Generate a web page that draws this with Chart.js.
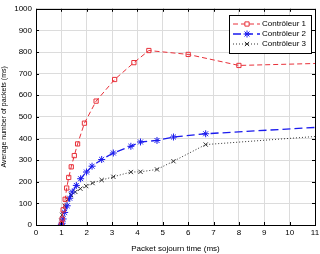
<!DOCTYPE html>
<html>
<head>
<meta charset="utf-8">
<script src="https://cdn.jsdelivr.net/npm/chart.js@4.4.0/dist/chart.umd.min.js"></script>
<style>
  html, body { margin: 0; padding: 0; background: #fff; }
  #wrap { width: 320px; height: 254px; }
</style>
</head>
<body>
<div id="wrap"><canvas id="chart"></canvas></div>
<script>
const seriesNames = ["Contrôleur 1", "Contrôleur 2", "Contrôleur 3"];

const ctrl1X = [1.0, 1.03, 1.07, 1.15, 1.21, 1.29, 1.39, 1.51, 1.64, 1.91, 2.37, 3.1, 3.86, 4.45, 6.0, 8.0, 12];
const ctrl1Y = [3, 27, 70, 119, 171, 220, 269, 321, 375, 471, 573, 673, 751, 807, 789, 738, 750];

const ctrl2X = [1.0, 1.03, 1.07, 1.13, 1.23, 1.33, 1.43, 1.59, 1.76, 1.99, 2.21, 2.59, 3.05, 3.74, 4.12, 4.77, 5.42, 6.69, 12];
const ctrl2Y = [3, 8, 28, 58, 89, 124, 153, 183, 214, 245, 272, 303, 333, 364, 384, 391, 407, 422, 458];

const ctrl3X = [1.0, 1.03, 1.13, 1.25, 1.38, 1.55, 1.75, 1.98, 2.23, 2.59, 3.05, 3.74, 4.12, 4.77, 5.42, 6.69, 12];
const ctrl3Y = [20, 47, 89, 119, 139, 153, 168, 180, 194, 208, 223, 245, 246, 257, 295, 372, 418];

const xTicks = [0, 1, 2, 3, 4, 5, 6, 7, 8, 9, 10, 11];
const yTicks = [0, 100, 200, 300, 400, 500, 600, 700, 800, 900, 1000];

const FONT = "'Liberation Sans', Arial, sans-serif";

function pairs(xs, ys) {
    return xs.map((x, i) => ({ x, y: ys[i] }));
}

const styles = [
    { color: "#e8313a", dash: [5, 3], point: "rect", radius: 3, width: 1 },
    { color: "#1a1aee", dash: [8, 4], point: "star", radius: 3.5, width: 1.3 },
    { color: "#333333", dash: [1, 2], point: "crossRot", radius: 3, width: 1 }
];

// MATLAB-ish box, inward ticks, and legend inside the plot
const boxPlugin = {
    id: "boxPlugin",
    afterDraw(chart) {
        const { ctx, chartArea: a, scales } = chart;
        ctx.save();
        ctx.strokeStyle = "#000";
        ctx.lineWidth = 1;
        ctx.strokeRect(Math.round(a.left) + 0.5, Math.round(a.top) + 0.5,
            Math.round(a.right - a.left), Math.round(a.bottom - a.top));
        ctx.beginPath();
        xTicks.forEach(t => {
            const px = Math.round(scales.x.getPixelForValue(t)) + 0.5;
            ctx.moveTo(px, a.bottom); ctx.lineTo(px, a.bottom - 3);
            ctx.moveTo(px, a.top); ctx.lineTo(px, a.top + 3);
        });
        yTicks.forEach(t => {
            const py = Math.round(scales.y.getPixelForValue(t)) + 0.5;
            ctx.moveTo(a.left, py); ctx.lineTo(a.left + 3, py);
            ctx.moveTo(a.right, py); ctx.lineTo(a.right - 3, py);
        });
        ctx.stroke();

        // legend
        const lx = 229, ly = 15, lw = 82, lh = 38;
        ctx.fillStyle = "#fff";
        ctx.fillRect(lx, ly, lw, lh);
        ctx.strokeRect(lx + 0.5, ly + 0.5, lw, lh);
        ctx.font = "8px " + FONT;
        ctx.textBaseline = "middle";
        seriesNames.forEach((name, i) => {
            const s = styles[i];
            const y = ly + 9 + i * 10;
            ctx.strokeStyle = s.color;
            ctx.lineWidth = s.width;
            ctx.setLineDash(s.dash);
            ctx.beginPath();
            ctx.moveTo(lx + 4, y); ctx.lineTo(lx + 31, y);
            ctx.stroke();
            ctx.setLineDash([]);
            ctx.lineWidth = 1;
            Chart.helpers.drawPoint(ctx, { pointStyle: s.point, radius: s.radius, rotation: 0, borderWidth: 1 }, lx + 18, y);
            ctx.fillStyle = "#000";
            ctx.fillText(name, lx + 33, y);
        });
        ctx.restore();
    }
};

const datasets = [ [ctrl1X, ctrl1Y], [ctrl2X, ctrl2Y], [ctrl3X, ctrl3Y] ].map((d, i) => ({
    label: seriesNames[i],
    data: pairs(d[0], d[1]),
    showLine: true,
    borderColor: styles[i].color,
    backgroundColor: "transparent",
    borderWidth: styles[i].width,
    borderDash: styles[i].dash,
    pointStyle: styles[i].point,
    pointRadius: styles[i].radius,
    pointBorderColor: styles[i].color,
    pointBorderWidth: 1,
    pointBackgroundColor: "transparent",
    tension: 0
}));

new Chart(document.getElementById("chart"), {
    type: "scatter",
    data: { datasets },
    options: {
        responsive: true,
        maintainAspectRatio: false,
        animation: false,
        layout: { padding: { top: 8, right: 4, left: 0, bottom: 0 } },
        plugins: {
            legend: { display: false },
            tooltip: { enabled: false }
        },
        scales: {
            x: {
                type: "linear",
                min: 0,
                max: 11,
                afterBuildTicks(scale) { scale.ticks = xTicks.map(v => ({ value: v })); },
                afterFit(scale) { scale.height = 29; scale.paddingRight = 0; },
                grid: { color: "#dcdcdc", drawTicks: false },
                border: { display: false },
                ticks: { color: "#000", font: { size: 8, family: FONT }, padding: 3, maxRotation: 0 },
                title: { display: true, text: "Packet sojourn time (ms)", color: "#000", font: { size: 8, family: FONT }, padding: { top: 3, bottom: 0 } }
            },
            y: {
                min: 0,
                max: 1000,
                afterBuildTicks(scale) { scale.ticks = yTicks.map(v => ({ value: v })); },
                afterFit(scale) { scale.width = 36; },
                grid: { color: "#dcdcdc", drawTicks: false },
                border: { display: false },
                ticks: { color: "#000", font: { size: 8, family: FONT }, padding: 4, callback: v => String(v) },
                title: { display: true, text: "Average number of packets (ms)", color: "#000", font: { size: 7, family: FONT }, padding: { top: 0, bottom: 0 } }
            }
        }
    },
    plugins: [boxPlugin]
});
</script>
</body>
</html>
